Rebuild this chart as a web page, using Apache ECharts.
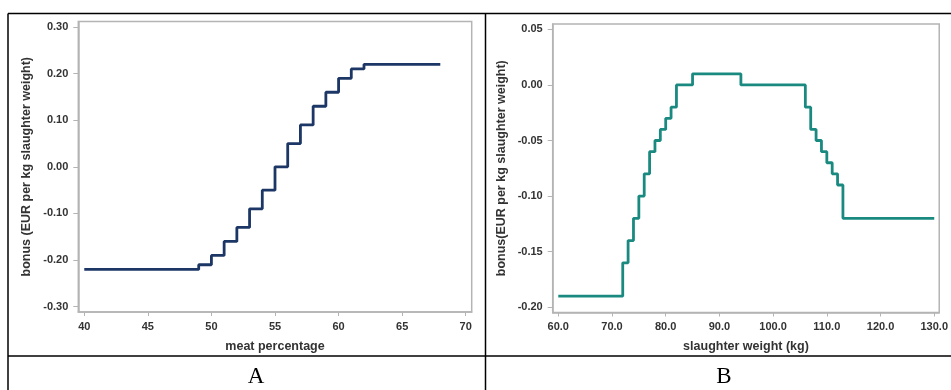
<!DOCTYPE html>
<html>
<head>
<meta charset="utf-8">
<script src="https://cdn.jsdelivr.net/npm/echarts@6/dist/echarts.min.js"></script>
<style>
html,body{margin:0;padding:0;background:#fff;}
#c{width:951px;height:390px;}
</style>
</head>
<body>
<div id="c"></div>
<script>
// Panel A: meat percentage vs bonus (value holds from x until next breakpoint)
const aX = [40, 49, 50, 51, 52, 53, 54, 55, 56, 57, 58, 59, 60, 61, 62, 68];
const aY = [-0.22, -0.21, -0.19, -0.16, -0.13, -0.09, -0.05, 0.00, 0.05, 0.09, 0.13, 0.16, 0.19, 0.21, 0.22, 0.22];
const aXTicks = [40, 45, 50, 55, 60, 65, 70];
const aYTicks = [-0.30, -0.20, -0.10, 0.00, 0.10, 0.20, 0.30];

// Panel B: slaughter weight vs bonus
const bX = [60, 72, 73, 74, 75, 76, 77, 78, 79, 80, 81, 82, 85, 94, 106, 107, 108, 109, 110, 111, 112, 113, 130];
const bY = [-0.19, -0.16, -0.14, -0.12, -0.10, -0.08, -0.06, -0.05, -0.04, -0.03, -0.02, 0.00, 0.01, 0.00, -0.02, -0.04, -0.05, -0.06, -0.07, -0.08, -0.09, -0.12, -0.12];
const bXTicks = [60, 70, 80, 90, 100, 110, 120, 130];
const bYTicks = [-0.20, -0.15, -0.10, -0.05, 0.00, 0.05];

const panelLabels = ['A', 'B'];
const xNames = ['meat percentage', 'slaughter weight (kg)'];
const yNames = ['bonus (EUR per kg slaughter weight)', 'bonus(EUR per kg slaughter weight)'];

const gray = '#b4b4b4';
const labelStyle = {color: '#333', fontFamily: 'Liberation Sans, Arial, sans-serif', fontWeight: 'bold', fontSize: 11};
const nameStyle = {color: '#333', fontFamily: 'Liberation Sans, Arial, sans-serif', fontWeight: 'bold', fontSize: 12.5};

function xAxis(idx, min, max, ticks, dec, name) {
  return {
    type: 'value', gridIndex: idx, min: min, max: max,
    name: name, nameLocation: 'middle', nameGap: 28, nameTextStyle: nameStyle,
    axisLine: {show: true, onZero: false, lineStyle: {color: gray, width: 1.5}},
    axisTick: {show: true, length: 4, lineStyle: {color: gray}, customValues: ticks},
    axisLabel: Object.assign({margin: 9, customValues: ticks, formatter: v => v.toFixed(dec)}, labelStyle),
    splitLine: {show: false}
  };
}
function yAxis(idx, min, max, ticks, name) {
  return {
    type: 'value', gridIndex: idx, min: min, max: max,
    name: name, nameLocation: 'middle', nameGap: 45, nameTextStyle: nameStyle,
    axisLine: {show: true, onZero: false, lineStyle: {color: gray, width: 1.5}},
    axisTick: {show: true, length: 5, lineStyle: {color: gray}, customValues: ticks},
    axisLabel: Object.assign({margin: 10, customValues: ticks, formatter: v => v.toFixed(2)}, labelStyle),
    splitLine: {show: false}
  };
}

const chart = echarts.init(document.getElementById('c'), null, {renderer: 'canvas'});
const black = {stroke: '#000', lineWidth: 1.5};
chart.setOption({
  animation: false,
  backgroundColor: '#fff',
  grid: [
    {left: 78.3, right: 479.3, top: 21.5, bottom: 78, show: true, borderColor: gray, borderWidth: 1.5, backgroundColor: 'transparent'},
    {left: 552.7, right: 10, top: 24, bottom: 77.5, show: true, borderColor: gray, borderWidth: 1.5, backgroundColor: 'transparent'}
  ],
  xAxis: [
    xAxis(0, 39.53, 70.47, aXTicks, 0, xNames[0]),
    xAxis(1, 58.96, 130.93, bXTicks, 1, xNames[1])
  ],
  yAxis: [
    yAxis(0, -0.3114, 0.3118, aYTicks, yNames[0]),
    yAxis(1, -0.2047, 0.0548, bYTicks, yNames[1])
  ],
  series: [
    {type: 'line', xAxisIndex: 0, yAxisIndex: 0, step: 'end', showSymbol: false,
     data: aX.map((x, i) => [x, aY[i]]), lineStyle: {color: '#1c3766', width: 2.8}},
    {type: 'line', xAxisIndex: 1, yAxisIndex: 1, step: 'end', showSymbol: false,
     data: bX.map((x, i) => [x, bY[i]]), lineStyle: {color: '#1a8a80', width: 2.8}}
  ],
  graphic: [
    {type: 'line', shape: {x1: 8, y1: 13.5, x2: 951, y2: 13.5}, style: black},
    {type: 'line', shape: {x1: 8, y1: 13.5, x2: 8, y2: 390}, style: black},
    {type: 'line', shape: {x1: 485.5, y1: 13.5, x2: 485.5, y2: 390}, style: black},
    {type: 'line', shape: {x1: 8, y1: 356, x2: 951, y2: 356}, style: black},
    {type: 'text', x: 256, y: 388, style: {text: panelLabels[0], fill: '#000', font: '23px "Liberation Serif", "Times New Roman", serif', textAlign: 'center', textVerticalAlign: 'bottom'}},
    {type: 'text', x: 724, y: 388, style: {text: panelLabels[1], fill: '#000', font: '23px "Liberation Serif", "Times New Roman", serif', textAlign: 'center', textVerticalAlign: 'bottom'}}
  ]
});
</script>
</body>
</html>
